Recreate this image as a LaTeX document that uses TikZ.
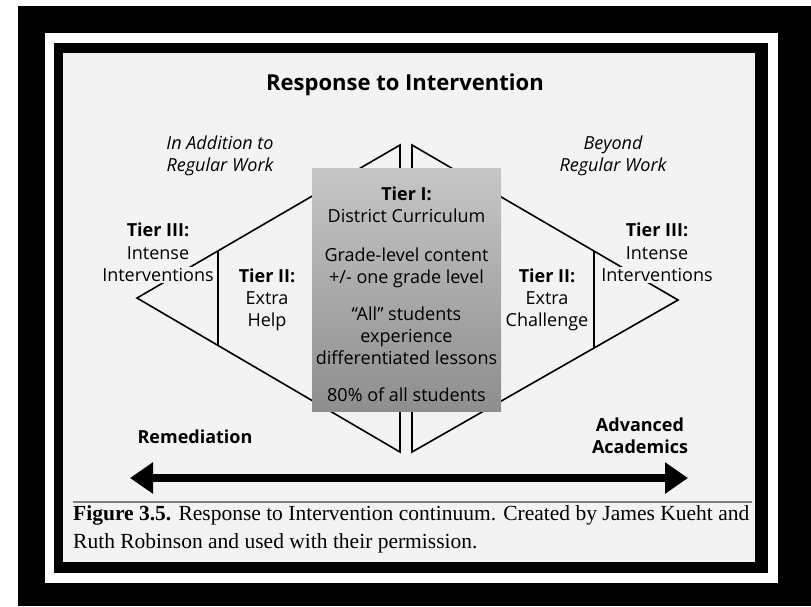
\documentclass[tikz,border=0pt]{standalone}
\usepackage{fontspec}
\setmainfont{Open Sans}
\newfontfamily\capfont{Liberation Serif}
\usetikzlibrary{arrows.meta,calc}
\definecolor{pagegray}{RGB}{243,243,243}
\definecolor{boxlight}{RGB}{198,198,198}
\definecolor{boxdark}{RGB}{142,142,142}
\begin{document}
\begin{tikzpicture}[x=1pt, y=-1pt,
  every node/.style={font=\fontsize{18}{22}\selectfont},
  tierlbl/.style={fill=pagegray, inner sep=1pt},
  sidelbl/.style={align=center, font=\fontsize{18}{22}\selectfont\itshape},
  endlbl/.style={align=center, font=\fontsize{18}{22}\selectfont\bfseries},
  wedge/.style={line width=1.6pt, line join=miter}]
  \useasboundingbox[fill=white] (0,0) rectangle (811,606);
  \fill[black] (18,6) rectangle (811,606);
  \fill[white] (45,33) rectangle (778,583);
  \fill[black] (54,43) rectangle (768,573);
  \fill[pagegray] (63,53) rectangle (755,562);

  \coordinate (LT) at (400,145);
  \coordinate (LB) at (400,452);
  \coordinate (LA) at (137,298);
  \coordinate (RT) at (412,145);
  \coordinate (RB) at (412,452);
  \coordinate (RA) at (678,300);
  \coordinate (ArrL) at (130,478);
  \coordinate (ArrR) at (688,478);

  \draw[wedge] (LT)--(LA)--(LB)--cycle;
  \draw[wedge] (RT)--(RA)--(RB)--cycle;
  \draw[wedge] ($(LA)!.308!(LT)$)--($(LA)!.308!(LB)$);
  \draw[wedge] ($(RA)!.316!(RT)$)--($(RA)!.316!(RB)$);

  \node[minimum width=189pt, minimum height=243pt, inner sep=0pt,
        top color=boxlight, bottom color=boxdark] (tierI) at (406.5,289.5) {};
  \node[align=center] (tierItxt) at (406.5,294) {\textbf{Tier I:}\\District Curriculum\\[17pt]
    Grade-level content\\+/- one grade level\\[15pt]
    “All” students\\experience\\differentiated lessons\\[15pt]
    80\% of all students};

  \node[font=\fontsize{22}{24}\selectfont\bfseries] (title) at (405,85) {Response to Intervention};
  \node[sidelbl] (addlbl) at (220,156) {In Addition to\\Regular Work};
  \node[sidelbl] (beylbl) at (613,156) {Beyond\\Regular Work};

  \node[tierlbl, font=\fontsize{18}{22}\selectfont\bfseries] (t3l) at (158,230) {Tier III:};
  \node[tierlbl] (t3lb) at (158,253) {Intense};
  \node[tierlbl] (t3lc) at (158,275) {Interventions};
  \node[tierlbl, font=\fontsize{18}{22}\selectfont\bfseries] (t3r) at (657,230) {Tier III:};
  \node[tierlbl] (t3rb) at (657,253) {Intense};
  \node[tierlbl] (t3rc) at (657,275) {Interventions};
  \node[align=center] (t2l) at (267,300) {\textbf{Tier II:}\\Extra\\Help};
  \node[align=center] (t2r) at (547,300) {\textbf{Tier II:}\\Extra\\Challenge};

  \node[endlbl] (remed) at (195,437) {Remediation};
  \node[endlbl] (adv) at (640,436) {Advanced\\Academics};

  \draw[line width=7.5pt, {Triangle[length=23pt,width=30pt]}-{Triangle[length=23pt,width=30pt]}] (ArrL)--(ArrR);
  \draw[gray, line width=1.2pt] (73,502)--(752,502);

  \node[anchor=north west, inner sep=0pt, align=left,
        font=\capfont\fontsize{21.5}{28}\selectfont] (caption) at (73,505)
    {\textbf{Figure 3.5.} Response to Intervention continuum. Created by James Kueht and\\
     Ruth Robinson and used with their permission.};
\end{tikzpicture}
\end{document}
